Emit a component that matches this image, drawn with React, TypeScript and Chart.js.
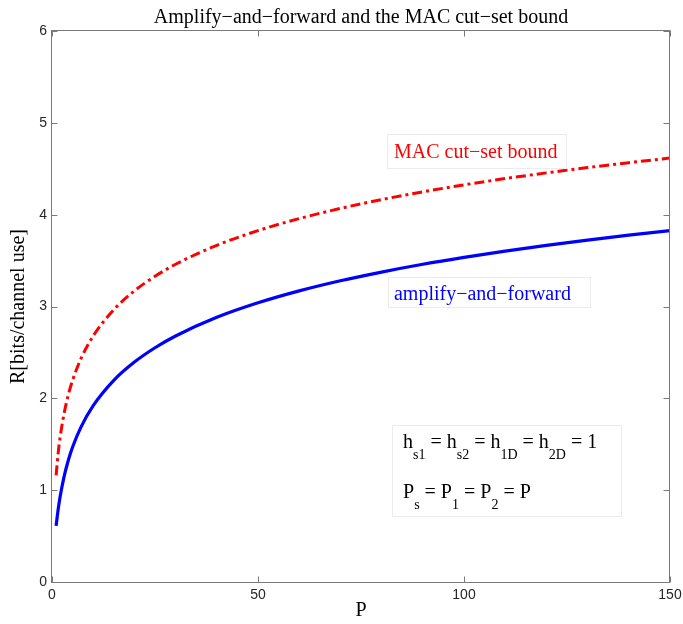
import { useEffect, useRef } from "react";
import { Chart, registerables } from "chart.js";

Chart.register(...registerables);

const powerP = [1, 1.5, 2, 3, 4, 5, 7, 10, 15, 20, 25, 30, 40, 50, 60, 70, 80, 90, 100, 110, 120, 130, 140, 150];
const macBound = [1.161, 1.404, 1.585, 1.85, 2.044, 2.196, 2.429, 2.679, 2.965, 3.17, 3.329, 3.46, 3.666, 3.826, 3.957, 4.068, 4.164, 4.249, 4.324, 4.393, 4.455, 4.513, 4.566, 4.616];
const amplifyForward = [0.611, 0.792, 0.937, 1.161, 1.331, 1.47, 1.684, 1.92, 2.196, 2.395, 2.551, 2.679, 2.882, 3.04, 3.17, 3.28, 3.375, 3.46, 3.535, 3.603, 3.666, 3.723, 3.777, 3.826];
const xTicks = [0, 50, 100, 150];
const yTicks = [0, 1, 2, 3, 4, 5, 6];

const titleText = "Amplify\u2212and\u2212forward and the MAC cut\u2212set bound";
const xTitle = "P";
const yTitle = "R[bits/channel use]";
const macLabel = "MAC cut\u2212set bound";
const afLabel = "amplify\u2212and\u2212forward";
// runs: [text, isSubscript]
const formulaLine1: [string, boolean][] = [
  ["h", false], ["s1", true], [" = h", false], ["s2", true], [" = h", false], ["1D", true], [" = h", false], ["2D", true], [" = 1", false],
];
const formulaLine2: [string, boolean][] = [
  ["P", false], ["s", true], [" = P", false], ["1", true], [" = P", false], ["2", true], [" = P", false],
];

const SERIF = "'Liberation Serif', 'Times New Roman', serif";
const SANS = "'Liberation Sans', Arial, sans-serif";

const framePlugin = {
  id: "matlabFrame",
  afterDatasetsDraw(chart: any) {
    const ctx = chart.ctx as CanvasRenderingContext2D;
    const xs = chart.scales.x;
    const ys = chart.scales.y;
    const X = (v: number) => xs.getPixelForValue(v);
    const Y = (v: number) => ys.getPixelForValue(v);
    ctx.save();
    const box = (x0: number, x1: number, y0: number, y1: number) => {
      ctx.fillStyle = "#ffffff";
      ctx.strokeStyle = "#ececec";
      ctx.lineWidth = 1;
      const l = Math.round(X(x0)) + 0.5, r = Math.round(X(x1)) + 0.5;
      const t = Math.round(Y(y0)) + 0.5, b = Math.round(Y(y1)) + 0.5;
      ctx.fillRect(l, t, r - l, b - t);
      ctx.strokeRect(l, t, r - l, b - t);
    };
    ctx.textBaseline = "alphabetic";
    ctx.textAlign = "left";
    // MAC label
    box(81.3, 124.8, 4.88, 4.51);
    ctx.font = `20px ${SERIF}`;
    ctx.fillStyle = "#ff0000";
    ctx.fillText(macLabel, X(83), Y(4.617));
    // AF label
    box(81.6, 130.6, 3.32, 2.99);
    ctx.fillStyle = "#0000ff";
    ctx.fillText(afLabel, X(83), Y(3.07));
    // formula box
    box(82.5, 138.1, 1.71, 0.72);
    ctx.fillStyle = "#000000";
    const drawRuns = (runs: [string, boolean][], x: number, y: number) => {
      let cx = x;
      for (const [t, sub] of runs) {
        ctx.font = sub ? `14px ${SERIF}` : `20px ${SERIF}`;
        ctx.fillText(t, cx, sub ? y + 11 : y);
        cx += ctx.measureText(t).width;
      }
    };
    drawRuns(formulaLine1, X(85.2), Y(1.46));
    drawRuns(formulaLine2, X(85.2), Y(0.915));
    ctx.restore();
  },
  afterDraw(chart: any) {
    const ctx = chart.ctx as CanvasRenderingContext2D;
    const { left, right, top, bottom } = chart.chartArea;
    const xs = chart.scales.x;
    const ys = chart.scales.y;
    ctx.save();
    // title centred over the plot area
    ctx.font = `20px ${SERIF}`;
    ctx.fillStyle = "#000000";
    ctx.textAlign = "center";
    ctx.textBaseline = "alphabetic";
    ctx.fillText(titleText, (left + right) / 2, top - 8);
    // frame with inward ticks
    ctx.strokeStyle = "#7a7a7a";
    ctx.lineWidth = 1;
    const l = Math.round(left) - 0.5, r = Math.round(right) - 0.5;
    const t = Math.round(top) - 0.5, b = Math.round(bottom) + 0.5;
    ctx.strokeRect(l, t, r - l, b - t);
    const tl = 6;
    ctx.beginPath();
    for (const v of xTicks) {
      const px = Math.round(xs.getPixelForValue(v)) + 0.5;
      ctx.moveTo(px, b); ctx.lineTo(px, b - tl);
      ctx.moveTo(px, t); ctx.lineTo(px, t + tl);
    }
    for (const v of yTicks) {
      const py = Math.round(ys.getPixelForValue(v)) + 0.5;
      ctx.moveTo(l, py); ctx.lineTo(l + tl, py);
      ctx.moveTo(r, py); ctx.lineTo(r - tl, py);
    }
    ctx.stroke();
    ctx.restore();
  },
};

export default function App() {
  const ref = useRef<HTMLCanvasElement | null>(null);
  useEffect(() => {
    if (!ref.current) return;
    const chart = new Chart(ref.current, {
      type: "line",
      data: {
        datasets: [
          {
            label: "MAC cut-set bound",
            data: powerP.map((p, i) => ({ x: p, y: macBound[i] })),
            borderColor: "#ff0000",
            borderWidth: 3,
            borderDash: [10, 4, 3, 4],
            pointRadius: 0,
            cubicInterpolationMode: "monotone",
            fill: false,
          },
          {
            label: "amplify-and-forward",
            data: powerP.map((p, i) => ({ x: p, y: amplifyForward[i] })),
            borderColor: "#0000ff",
            borderWidth: 3.2,
            pointRadius: 0,
            cubicInterpolationMode: "monotone",
            fill: false,
          },
        ],
      },
      options: {
        responsive: false,
        animation: false,
        layout: { padding: { left: 0, right: 13, top: 31, bottom: 0 } },
        plugins: {
          legend: { display: false },
          tooltip: { enabled: false },
          title: { display: false },
        },
        scales: {
          x: {
            type: "linear",
            min: 0,
            max: 150,
            afterBuildTicks: (s: any) => { s.ticks = xTicks.map((v) => ({ value: v })); },
            afterFit: (s: any) => { s.height = 42; s.paddingLeft = 0; s.paddingRight = 0; },
            grid: { display: false, drawTicks: false },
            border: { display: false },
            ticks: { color: "#262626", font: { family: SANS, size: 14 }, padding: 5, maxRotation: 0 },
            title: { display: true, text: xTitle, color: "#000000", font: { family: SERIF, size: 20 }, padding: { top: 0, bottom: 1 } },
          },
          y: {
            type: "linear",
            min: 0,
            max: 6,
            afterBuildTicks: (s: any) => { s.ticks = yTicks.map((v) => ({ value: v })); },
            afterFit: (s: any) => { s.width = 52; s.paddingTop = 0; s.paddingBottom = 0; },
            grid: { display: false, drawTicks: false },
            border: { display: false },
            ticks: { color: "#262626", font: { family: SANS, size: 14 }, padding: 5 },
            title: { display: true, text: yTitle, color: "#000000", font: { family: SERIF, size: 20 }, padding: { top: 7, bottom: 0 } },
          },
        },
      },
      plugins: [framePlugin],
    } as any);
    return () => chart.destroy();
  }, []);
  return (
    <div style={{ position: "fixed", left: 0, top: 0, width: 683, height: 624, background: "#ffffff" }}>
      <canvas ref={ref} width={683} height={624} style={{ display: "block" }} />
    </div>
  );
}
